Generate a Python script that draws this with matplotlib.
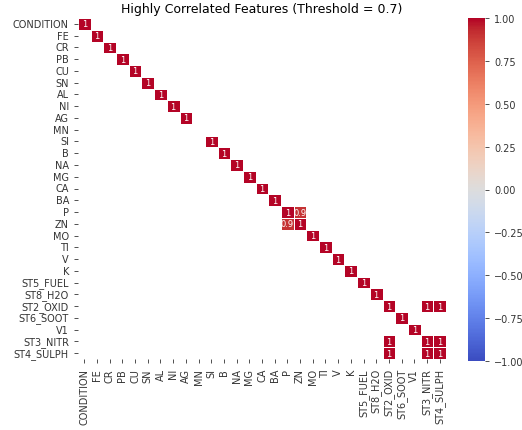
import numpy as np
import pandas as pd
import matplotlib
matplotlib.use("Agg")
import matplotlib.pyplot as plt
import seaborn as sns

# Feature names in the order of the correlation matrix
features = ["CONDITION", "FE", "CR", "PB", "CU", "SN", "AL", "NI", "AG", "MN",
            "SI", "B", "NA", "MG", "CA", "BA", "P", "ZN", "MO", "TI", "V", "K",
            "ST5_FUEL", "ST8_H2O", "ST2_OXID", "ST6_SOOT", "V1", "ST3_NITR",
            "ST4_SULPH"]

# Constant column -> correlation undefined on the diagonal
no_self_corr = ["MN"]

# Pairs whose |r| passes the threshold (besides the diagonal)
pair_a = ["P", "ST2_OXID", "ST2_OXID", "ST3_NITR"]
pair_b = ["ZN", "ST3_NITR", "ST4_SULPH", "ST4_SULPH"]
pair_r = [0.9, 1.0, 1.0, 1.0]

threshold = 0.7

corr = pd.DataFrame(np.nan, index=features, columns=features)
for f in features:
    if f not in no_self_corr:
        corr.loc[f, f] = 1.0
for a, b, r in zip(pair_a, pair_b, pair_r):
    corr.loc[a, b] = r
    corr.loc[b, a] = r

high = corr[corr.abs() >= threshold]

fig = plt.figure(figsize=(5.22, 4.31), dpi=100)
W, H = 522, 431
ax = fig.add_axes([78 / W, 1 - 360 / H, (446 - 78) / W, (360 - 19) / H])
cax = fig.add_axes([468 / W, 1 - 362 / H, 17 / W, (362 - 19) / H])

sns.heatmap(high, annot=True, cmap="coolwarm", vmin=-1, vmax=1,
            linewidths=0.5, linecolor="white", ax=ax, cbar_ax=cax,
            xticklabels=True, yticklabels=True,
            annot_kws={"fontsize": 6})

ax.set_title(f"Highly Correlated Features (Threshold = {threshold})", fontsize=9, pad=4)
ax.tick_params(axis="both", labelsize=7, length=3, width=0.6, colors="#333333")
cax.tick_params(labelsize=7, length=3, width=0.6, colors="#333333")

fig.savefig("out.png", dpi=100)
